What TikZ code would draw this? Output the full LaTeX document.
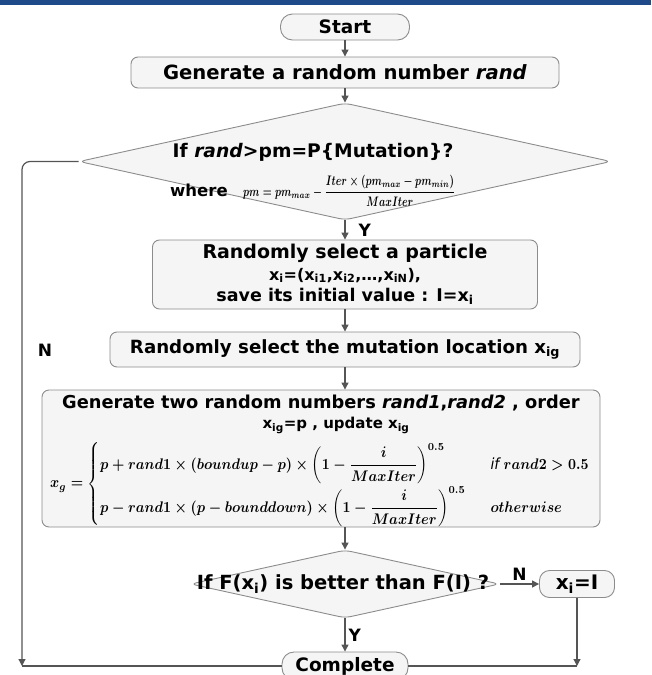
\documentclass[tikz,border=0pt]{standalone}
\usepackage{amsmath}
\usepackage{graphicx}
\usepackage{fontspec}
\setmainfont{DejaVu Sans}
\usetikzlibrary{shapes.geometric,arrows.meta}
\definecolor{barblue}{HTML}{1F4A8A}
\definecolor{edgegray}{HTML}{8C8C8C}
\definecolor{boxfill}{HTML}{F5F5F5}
\definecolor{linegray}{HTML}{555555}
\newcommand\txt{\fontsize{19}{21.5}\selectfont\bfseries}
\newcommand\fs[1]{\fontsize{#1}{#1}\selectfont\bfseries}
\newcommand\sub[1]{\textsubscript{#1}}
\newsavebox\formulabox
\newsavebox\pmbox
\begin{document}
\savebox\formulabox{\resizebox*{540pt}{86pt}{\boldmath$x_g=\left\{\renewcommand{\arraystretch}{2.2}\begin{array}{@{}l@{\hspace{18pt}}l@{}}
p+rand1\times(boundup-p)\times\left(1-\dfrac{i}{MaxIter}\right)^{0.5} & \text{\itshape if } rand2>0.5\\
p-rand1\times(p-bounddown)\times\left(1-\dfrac{i}{MaxIter}\right)^{0.5} & otherwise
\end{array}\right.$}}
\savebox\pmbox{\resizebox*{212pt}{31pt}{\boldmath$pm=pm_{max}-\dfrac{Iter\times(pm_{max}-pm_{min})}{MaxIter}$}}
\begin{tikzpicture}[x=1pt,y=-1pt,
  box/.style={draw=edgegray, fill=boxfill, line width=0.9pt, rounded corners=7pt, inner sep=0pt, align=center, font=\txt},
  pill/.style={box, rounded corners=12pt},
  dia/.style={draw=edgegray, fill=boxfill, line width=0.9pt, diamond, rounded corners=6pt, inner sep=0pt},
  conn/.style={draw=linegray, line width=1.2pt},
  arr/.style={conn, -{Triangle[length=7pt,width=7pt]}},
  lbl/.style={font=\txt, inner sep=1pt}
]
\useasboundingbox (0,0) rectangle (651,675);
\fill[barblue] (0,0) rectangle (651,5);

% nodes
\node[pill, minimum width=129, minimum height=26, font=\fs{18.5}] (start) at (345,27) {Start};
\node[box, minimum width=428, minimum height=31, font=\fs{19.6}] (gen) at (345,72.5) {Generate a random number \textit{rand}};
\node[dia, minimum width=532, minimum height=117] (d1) at (345,161.5) {};
\node[lbl, font=\fs{18.7}] (d1a) at (313,152) {If \textit{rand}>pm=P\{Mutation\}?};
\node[inner sep=0pt, anchor=west, font=\fs{16.5}] (d1w) at (170,190) {where};
\node[inner sep=0pt, anchor=west] (d1f) at (243,191) {\usebox\pmbox};
\node[box, minimum width=385, minimum height=69] (sel) at (345,274.5) {Randomly select a particle\\ {\fs{16}x\sub{i}=(x\sub{i1},x\sub{i2},\dots,x\sub{iN}),}\\ {\fs{17.5}save its initial value : I=x\sub{i}}};
\node[box, minimum width=470, minimum height=35, font=\fs{18.2}] (loc) at (345,349.5) {Randomly select the mutation location x\sub{ig}};
\node[box, minimum width=558, minimum height=137] (big) at (321,458.5) {};
\node[lbl, font=\fs{17.8}] (bigA) at (321,403) {Generate two random numbers \textit{rand1},\textit{rand2} , order};
\node[lbl, font=\fs{15}] (bigB) at (336,425) {x\sub{ig}=p , update x\sub{ig}};
\node[inner sep=0pt, anchor=west] (bigF) at (50,484) {\usebox\formulabox};
\node[dia, minimum width=309, minimum height=68] (d2) at (345,584) {};
\node[lbl, font=\fs{19.5}] (d2t) at (343,584) {If F(x\sub{i}) is better than F(I) ?};
\node[box, rounded corners=10pt, minimum width=75, minimum height=27, font=\fs{20}] (xi) at (577,584) {x\sub{i}=I};
\node[pill, minimum width=126, minimum height=28, font=\fs{18.5}] (comp) at (345,666) {Complete};
\coordinate (lc) at (22,666);
\coordinate (rc) at (577,666);

% connectors
\draw[arr] (start) -- (gen);
\draw[arr] (gen) -- (d1);
\draw[arr] (d1) -- node[lbl, right, xshift=12pt, font=\fs{17}] {Y} (sel);
\draw[arr] (sel) -- (loc);
\draw[arr] (loc) -- (loc.south |- big.north);
\draw[arr] (big.south -| d2.north) -- (d2);
\draw[arr] (d2) -- node[lbl, above, yshift=2pt, font=\fs{17}] {N} (xi);
\draw[arr] (d2) -- node[lbl, right, xshift=2pt, font=\fs{17}] {Y} (comp);
\draw[arr, rounded corners=8pt] (d1.west) -| (lc);
\draw[conn] (lc) -- (comp.west);
\draw[arr] (xi.south) -- (rc);
\draw[conn] (comp.east) -- (rc);
\node[lbl, font=\fs{17}] (nleft) at (45,350) {N};
\end{tikzpicture}
\end{document}
